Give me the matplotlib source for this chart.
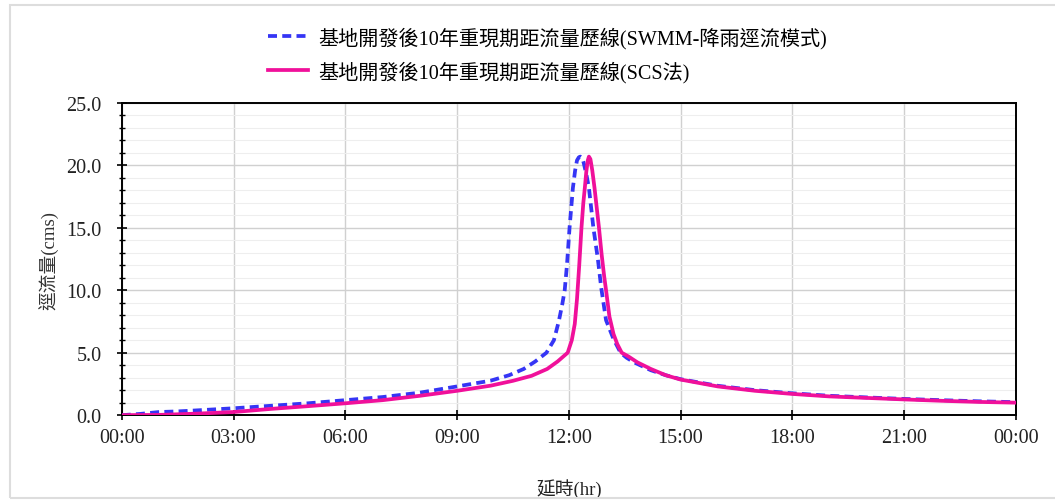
import matplotlib
matplotlib.use('Agg')
import matplotlib.pyplot as plt
from matplotlib.ticker import MultipleLocator, FuncFormatter
from matplotlib.patches import Rectangle

plt.rcParams['font.family'] = ['Liberation Serif', 'Noto Sans CJK TC']

# time in hours, runoff in cms
swmm_t = [0, 0.5, 1.0, 1.5, 2, 3, 4, 5, 6, 7, 8, 9, 9.9, 10.4, 10.79, 11.1, 11.4,
          11.6, 11.73, 11.82, 11.89, 11.95, 12.02, 12.11, 12.17, 12.22, 12.27,
          12.31, 12.36, 12.40, 12.47, 12.54, 12.66, 12.78, 12.87, 13.0, 13.2,
          13.39, 13.55, 13.75, 14.2, 14.6, 15, 16, 17, 18, 19, 20, 21, 22, 23, 24]
swmm_q = [0, 0.1, 0.25, 0.3, 0.38, 0.55, 0.75, 0.95, 1.2, 1.45, 1.8, 2.3, 2.76,
          3.2, 3.7, 4.3, 5.0, 6.0, 7.5, 8.8, 10.0, 12.0, 15.0, 18.2, 19.6, 20.4,
          20.65, 20.7, 20.6, 20.2, 19.3, 18.2, 15.0, 12.5, 10.2, 7.6, 6.1, 5.0,
          4.6, 4.23, 3.6, 3.2, 2.88, 2.35, 2.0, 1.75, 1.55, 1.42, 1.3, 1.2, 1.11,
          1.04]

scs_t = [0, 1, 2, 3, 4, 5, 6, 7, 8, 9, 9.9, 10.5, 11.0, 11.42, 11.7, 11.97, 12.08,
         12.16, 12.22, 12.28, 12.34, 12.39, 12.43, 12.47, 12.51, 12.54, 12.58,
         12.63, 12.69, 12.75, 12.81, 12.88, 12.95, 13.0, 13.09, 13.2, 13.3, 13.42,
         13.6, 13.84, 14.2, 14.6, 15, 16, 17, 18, 19, 20, 21, 22, 23, 24]
scs_q = [0, 0.02, 0.12, 0.25, 0.5, 0.72, 0.95, 1.2, 1.55, 1.95, 2.36, 2.75, 3.15,
         3.7, 4.3, 5.0, 6.0, 7.3, 9.3, 12.0, 15.0, 17.0, 18.2, 19.5, 20.4, 20.7,
         20.5, 19.6, 18.2, 16.6, 15.0, 12.9, 11.1, 10.0, 7.9, 6.5, 5.7, 5.0, 4.7,
         4.23, 3.7, 3.2, 2.85, 2.3, 1.95, 1.7, 1.5, 1.38, 1.26, 1.15, 1.06, 1.0]

labels = ['基地開發後10年重現期距流量歷線(SWMM-降雨逕流模式)',
          '基地開發後10年重現期距流量歷線(SCS法)']

fig = plt.figure(figsize=(10.55, 5.02), dpi=100)
ax = fig.add_axes([0.1154, 0.171, 0.8475, 0.622])

ax.plot(swmm_t, swmm_q, color='#3535F5', linestyle=(0, (2.4, 1.4)), lw=2.7,
        label=labels[0], zorder=3)
ax.plot(scs_t, scs_q, color='#F0109A', lw=2.7, label=labels[1], zorder=4)

ax.set_xlim(0, 24)
ax.set_ylim(0, 25)
ax.xaxis.set_major_locator(MultipleLocator(3))
ax.xaxis.set_major_formatter(FuncFormatter(lambda v, p: '%02d:00' % (int(round(v)) % 24)))
ax.yaxis.set_major_locator(MultipleLocator(5))
ax.yaxis.set_minor_locator(MultipleLocator(1))
ax.yaxis.set_major_formatter(FuncFormatter(lambda v, p: '%.1f' % v))

ax.grid(True, which='major', color='#D0D0D0', lw=1.0)
ax.grid(True, which='minor', axis='y', color='#EEEEEE', lw=0.8)
ax.tick_params(axis='both', which='major', direction='inout', length=7, width=1.2,
               labelsize=14.5, labelcolor='#222222')
ax.tick_params(axis='y', which='minor', direction='inout', length=5, width=1.0)
ax.tick_params(axis='x', pad=6)
ax.tick_params(axis='y', pad=11)
for s in ax.spines.values():
    s.set_linewidth(1.4)
    s.set_color('black')

ax.set_ylabel('逕流量(cms)', fontsize=13.5, color='#333333', labelpad=5)
ax.set_xlabel('延時(hr)', fontsize=13.5, color='#222222', labelpad=22)

leg = fig.legend(loc='upper left', bbox_to_anchor=(250 / 1055, 0.981), ncol=1,
                 frameon=False, fontsize=14.5, handlelength=2.0, labelspacing=0.6,
                 handletextpad=0.5)

fig.patches.append(Rectangle((10 / 1055, 3 / 502), 1.2, 493 / 502, transform=fig.transFigure,
                             fill=False, edgecolor='#DDDDDD', lw=1.5))

fig.savefig('out.png', dpi=100)
